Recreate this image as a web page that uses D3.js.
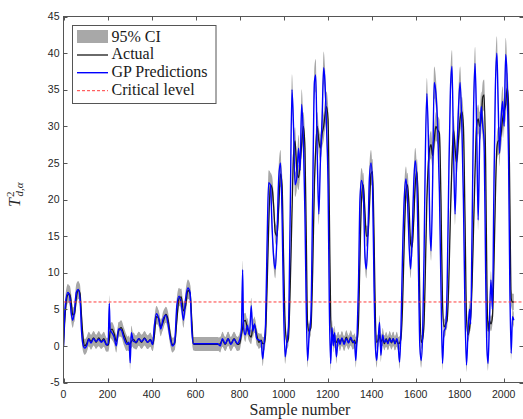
<!DOCTYPE html>
<html>
<head>
<meta charset="utf-8">
<script src="https://cdn.jsdelivr.net/npm/d3@7/dist/d3.min.js"></script>
<style>
  html, body { margin: 0; padding: 0; background: #fff; }
  svg { display: block; }
</style>
</head>
<body>
<svg id="chart" width="523" height="419"></svg>
<script>
// ---------------- DATA ----------------
const sampleIdx = [0,8,20,28,35,42,50,58,67,75,82,90,97,105,115,125,137,148,160,172,183,195,203,208,212,220,230,240,250,262,275,288,298,303,308,318,330,342,355,368,382,395,405,412,422,432,442,452,465,475,485,495,505,515,525,535,545,555,565,575,583,590,600,650,700,712,722,735,748,760,775,790,800,808,814,818,826,835,845,853,860,868,878,888,898,905,912,918,925,932,940,948,955,962,970,978,986,993,1000,1007,1015,1022,1030,1038,1045,1052,1060,1068,1075,1082,1090,1097,1103,1109,1116,1124,1132,1140,1146,1153,1160,1167,1175,1182,1188,1195,1202,1208,1214,1220,1226,1232,1240,1248,1256,1265,1275,1285,1295,1305,1315,1322,1328,1334,1340,1347,1354,1362,1370,1376,1383,1390,1397,1404,1411,1417,1423,1430,1436,1442,1450,1458,1466,1474,1482,1490,1498,1506,1514,1520,1527,1533,1540,1548,1556,1563,1570,1577,1584,1591,1598,1606,1613,1619,1625,1632,1638,1644,1651,1658,1664,1670,1677,1684,1692,1700,1708,1715,1722,1729,1736,1743,1750,1758,1765,1772,1779,1786,1794,1802,1810,1817,1824,1831,1838,1845,1850,1856,1863,1870,1877,1884,1891,1898,1905,1911,1918,1924,1929,1935,1942,1949,1955,1962,1969,1975,1981,1988,1995,2002,2009,2016,2022,2028,2034,2040,2046];

const actualVals = [0,4.5,7.0,7.1,6.0,4.2,4.4,6.5,7.6,7.2,4.0,0.8,0,0.3,1.0,0.6,1.1,0.5,1.1,0.6,1.0,0.2,0.1,0.8,2.0,2.3,1.7,0.6,2.0,2.5,1.5,0.5,0.2,0.3,0.6,0.9,0.4,1.0,0.5,1.1,0.5,0.9,0.2,1.2,4.0,3.8,2.6,3.2,4.3,3.6,1.5,0.2,0.3,3.5,6.5,6.7,4.8,5.5,7.6,7.2,3.5,0.3,0.2,0.2,0.2,0.3,0.8,0.2,1.0,0.3,1.0,0.2,0.3,1.5,2.5,3.3,3.5,2.5,1.5,1.2,2.5,2.8,1.5,0.5,0.8,0.3,0.3,1.5,8,16,22,21.5,19,15.5,15,19,23.5,22,12,3,0.5,1,8,18,26,28,24,23,25,27.5,30,27,15,3,2,2.5,10,22,27,30,28,27,29,30,31.5,32.7,31,18,4,1.0,1.5,0.6,0.5,1.0,0.5,1.0,0.4,1.2,0.5,1.0,0.4,0.8,0.3,0.8,3,12,20,22,18,15,15,19,23.5,23.8,15,4,0.5,0.8,1.5,0.5,1.0,0.3,1.0,0.4,1.1,0.4,1.0,0.3,0.8,0.3,0.4,1,5,14,21,22,19,14,13.5,17,22,23.8,18,6,0.5,1,3,10,20,25,27,27.5,26,28,30,29.5,29,20,6,2.6,3,3.5,8,18,25,29.5,27,25,28,31,32,30,18,4,1.5,2.5,4,8,16,24,30,31,30,31,34,34.3,25,8,2,3.5,3,4,10,20,27,28,28,29,31,32,33,35.2,33,20,6.5,6.0,6.0];

const predVals = [0,5.5,7.3,6.8,4.5,3.5,4.8,7.3,7.7,6.5,2.0,0,-0.3,0.0,0.9,0.4,1.0,0.6,0.9,0.5,0.8,0.1,0.3,5.8,2.2,1.8,1.2,0.0,2.3,2.2,1.0,0.2,0.5,-2.3,1.8,0.6,0.5,1.0,0.6,1.0,0.5,0.8,0.2,2.5,4.4,3.8,2.3,3.6,4.2,3.0,1.0,0.0,0.5,5.5,6.8,5.8,3.5,6.5,7.9,7.3,2.0,0.3,0.3,0.3,0.3,0.0,1.0,0.3,1.0,0.2,0.9,0.3,0.8,2.0,10.4,2.5,1.5,2.8,1.5,5.5,2.0,3.0,1.0,0.8,0.6,-1.8,0.5,3,14,22.3,22,16,12,10.5,15,23,25,18,5,-1.5,0.5,2.5,18,35,30,22,23,27,24,33,28,18,5,-2,1.5,4,20,36,37,26,18,25,31,38,36,30,22,5,-2.4,2.5,0.0,1.8,-1.5,1.0,0.2,1.1,0.2,1.0,0.4,1.2,0.5,0.6,-2.0,1.5,8,20,22.6,21,12,10.5,15,23,25,22,8,0,-2,1,3.2,-1.3,1.5,0.5,0.8,0.3,1.0,0.5,1.0,0.3,1.0,0.3,-2.2,2,12,20,22.8,20,14,10.5,15,22,25.3,22,10,0,-2,2,12,26,34.5,28,17,13,22,36,34.5,30,21,8,-2.4,2,2.5,8,22,35,38.2,27,18,25,32,36,30,20,5,-2.6,2,5,3,15,32,38.6,30,17.2,28,32.7,30,28,10,-0.5,-2.4,3,9,5,20,35,40,33,26.3,31,33.4,30,39.8,36,26,8,-1,4,3.5];

const criticalLevel = 6;
const ciHalfRange = [0.9, 2.3];   // CI half-width near 0 and near 40

const xTicks = [0,200,400,600,800,1000,1200,1400,1600,1800,2000];
const yTicks = [-5,0,5,10,15,20,25,30,35,40,45];
const legendLabels = ["95% CI", "Actual", "GP Predictions", "Critical level"];

// ---------------- CHART ----------------
const svg = d3.select("#chart");
const L = 63.5, R = 523.5, T = 16.5, B = 382.5;

const x = d3.scaleLinear().domain([0, 2090]).range([L, R]);
const y = d3.scaleLinear().domain([-5, 45]).range([B, T]);
const hw = d3.scaleLinear().domain([0, 40]).range(ciHalfRange).clamp(true);

const rows = sampleIdx.map((s, i) => ({ s, a: actualVals[i], p: predVals[i] }));

svg.append("defs").append("clipPath").attr("id", "clip")
  .append("rect").attr("x", L).attr("y", T).attr("width", R - L).attr("height", B - T);

const plot = svg.append("g").attr("clip-path", "url(#clip)");
const curve = d3.curveMonotoneX;

// CI band
const bandP = d3.area().curve(curve)
  .x(d => x(d.s)).y0(d => y(d.p - hw(Math.abs(d.p)))).y1(d => y(d.p + hw(Math.abs(d.p))));
const bandA = d3.area().curve(curve)
  .x(d => x(d.s)).y0(d => y(d.a - hw(Math.abs(d.a)))).y1(d => y(d.a + hw(Math.abs(d.a))));
plot.append("path").datum(rows).attr("d", bandP).attr("fill", "#a8a8a8");
plot.append("path").datum(rows).attr("d", bandA).attr("fill", "#a8a8a8");

// Actual
plot.append("path").datum(rows)
  .attr("d", d3.line().curve(curve).x(d => x(d.s)).y(d => y(d.a)))
  .attr("fill", "none").attr("stroke", "#1a1a1a").attr("stroke-width", 1.3);

// GP predictions
plot.append("path").datum(rows)
  .attr("d", d3.line().curve(curve).x(d => x(d.s)).y(d => y(d.p)))
  .attr("fill", "none").attr("stroke", "#0000ff").attr("stroke-width", 1.4);

// Critical level
plot.append("line")
  .attr("x1", L).attr("x2", R).attr("y1", y(criticalLevel)).attr("y2", y(criticalLevel))
  .attr("stroke", "#ff3b3b").attr("stroke-width", 1).attr("stroke-dasharray", "3,2");

// Axes box
const axisColor = "#555";
const ax = svg.append("g");
ax.append("rect").attr("x", L).attr("y", T).attr("width", R - L).attr("height", B - T)
  .attr("fill", "none").attr("stroke", axisColor).attr("stroke-width", 1);

const tl = 4;
xTicks.forEach(t => {
  const px = Math.round(x(t)) + 0.5;
  ax.append("line").attr("x1", px).attr("x2", px).attr("y1", B).attr("y2", B - tl).attr("stroke", axisColor);
  ax.append("line").attr("x1", px).attr("x2", px).attr("y1", T).attr("y2", T + tl).attr("stroke", axisColor);
  ax.append("text").attr("x", x(t)).attr("y", 397.5).attr("text-anchor", "middle")
    .attr("font-family", "Liberation Sans, Arial, sans-serif").attr("font-size", 10.5)
    .attr("fill", "#262626").text(t);
});
yTicks.forEach(t => {
  const py = Math.round(y(t)) + 0.5;
  ax.append("line").attr("x1", L).attr("x2", L + tl).attr("y1", py).attr("y2", py).attr("stroke", axisColor);
  ax.append("line").attr("x1", R).attr("x2", R - tl).attr("y1", py).attr("y2", py).attr("stroke", axisColor);
  ax.append("text").attr("x", 59.5).attr("y", y(t)).attr("dy", "0.35em").attr("text-anchor", "end")
    .attr("font-family", "Liberation Sans, Arial, sans-serif").attr("font-size", 10.5)
    .attr("fill", "#262626").text(t);
});

// Axis labels
svg.append("text").attr("x", 300).attr("y", 415).attr("text-anchor", "middle")
  .attr("font-family", "Liberation Serif, Times New Roman, serif").attr("font-size", 16)
  .attr("fill", "#262626").text("Sample number");

const yl = svg.append("text").attr("transform", "translate(20,207) rotate(-90)")
  .attr("font-family", "Liberation Serif, Times New Roman, serif").attr("fill", "#262626");
yl.append("tspan").attr("font-size", 16).attr("font-style", "italic").text("T");
yl.append("tspan").attr("font-size", 11).attr("dy", -6).attr("dx", 1).text("2");
yl.append("tspan").attr("font-size", 11).attr("font-style", "italic").attr("dy", 9).attr("dx", -5).text("d,α");

// Legend
const lg = svg.append("g");
lg.append("rect").attr("x", 72.5).attr("y", 25.5).attr("width", 143.5).attr("height", 78)
  .attr("fill", "#fff").attr("stroke", axisColor).attr("stroke-width", 1);
lg.append("rect").attr("x", 77).attr("y", 30).attr("width", 31).attr("height", 13).attr("fill", "#a8a8a8");
lg.append("line").attr("x1", 77).attr("x2", 108).attr("y1", 55).attr("y2", 55)
  .attr("stroke", "#1a1a1a").attr("stroke-width", 1.3);
lg.append("line").attr("x1", 77).attr("x2", 108).attr("y1", 72.7).attr("y2", 72.7)
  .attr("stroke", "#0000ff").attr("stroke-width", 1.4);
lg.append("line").attr("x1", 77).attr("x2", 108).attr("y1", 90.7).attr("y2", 90.7)
  .attr("stroke", "#ff3b3b").attr("stroke-width", 1).attr("stroke-dasharray", "3,2");
const baselines = [41.5, 59, 77, 95];
legendLabels.forEach((lab, i) => {
  lg.append("text").attr("x", 111.5).attr("y", baselines[i])
    .attr("font-family", "Liberation Serif, Times New Roman, serif").attr("font-size", 16)
    .attr("fill", "#1a1a1a").text(lab);
});
</script>
</body>
</html>
